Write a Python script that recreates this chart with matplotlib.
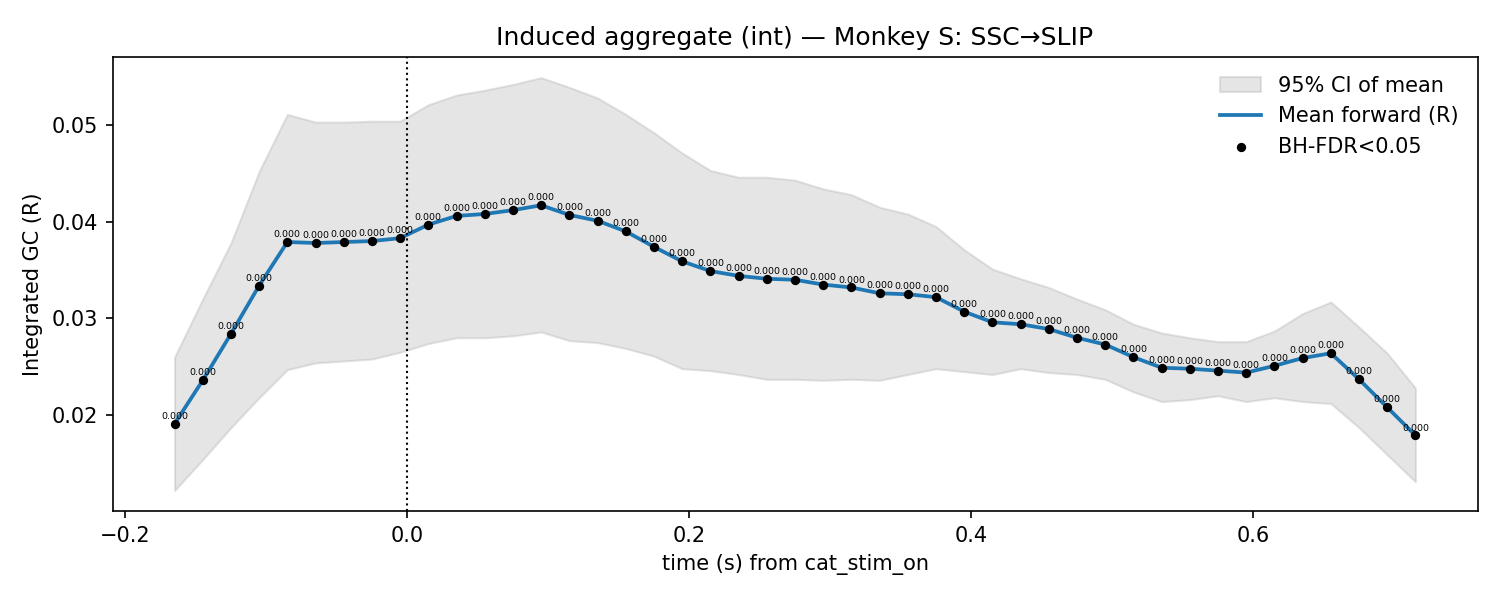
import numpy as np
import matplotlib.pyplot as plt

t = np.round(np.arange(45) * 0.02 - 0.165, 3)
mean_r = [0.0191, 0.0236, 0.0284, 0.0334, 0.0379, 0.0378, 0.0379, 0.0380, 0.0383,
          0.0397, 0.0406, 0.0408, 0.0412, 0.0417, 0.0407, 0.0401, 0.0390, 0.0374,
          0.0359, 0.0349, 0.0344, 0.0341, 0.0340, 0.0335, 0.0332, 0.0326, 0.0325,
          0.0322, 0.0307, 0.0296, 0.0294, 0.0289, 0.0280, 0.0273, 0.0260, 0.0249,
          0.0248, 0.0246, 0.0244, 0.0251, 0.0259, 0.0264, 0.0237, 0.0208, 0.0179]
ci_hi = [0.0260, 0.0320, 0.0378, 0.0452, 0.0511, 0.0503, 0.0503, 0.0504, 0.0504,
         0.0521, 0.0531, 0.0536, 0.0542, 0.0549, 0.0539, 0.0528, 0.0511, 0.0492,
         0.0471, 0.0453, 0.0446, 0.0446, 0.0443, 0.0434, 0.0428, 0.0415, 0.0408,
         0.0395, 0.0371, 0.0351, 0.0341, 0.0332, 0.0320, 0.0309, 0.0294, 0.0285,
         0.0280, 0.0276, 0.0276, 0.0287, 0.0305, 0.0317, 0.0291, 0.0264, 0.0228]
ci_lo = [0.0122, 0.0154, 0.0187, 0.0218, 0.0247, 0.0254, 0.0256, 0.0258, 0.0265,
         0.0274, 0.0280, 0.0280, 0.0282, 0.0286, 0.0277, 0.0275, 0.0269, 0.0261,
         0.0248, 0.0246, 0.0242, 0.0237, 0.0237, 0.0236, 0.0237, 0.0236, 0.0242,
         0.0248, 0.0245, 0.0242, 0.0248, 0.0244, 0.0242, 0.0237, 0.0224, 0.0214,
         0.0216, 0.0220, 0.0214, 0.0218, 0.0214, 0.0212, 0.0187, 0.0159, 0.0131]
p_fdr = [0.0] * len(t)

fig, ax = plt.subplots(figsize=(10, 4), dpi=150)
fig.subplots_adjust(left=0.075, right=0.985, top=0.905, bottom=0.148)

ax.fill_between(t, ci_lo, ci_hi, color='0.6', alpha=0.25, label='95% CI of mean')
ax.plot(t, mean_r, color='#1f77b4', lw=1.8, label='Mean forward (R)')
ax.scatter(t, mean_r, s=12, color='black', zorder=3, label='BH-FDR<0.05')
for xi, yi, p in zip(t, mean_r, p_fdr):
    ax.text(xi, yi + 0.0003, f'{p:.3f}', fontsize=4.5, ha='center', va='bottom')
ax.axvline(0, color='black', ls=':', lw=1)

ax.set_title('Induced aggregate (int) — Monkey S: SSC→SLIP')
ax.set_xlabel('time (s) from cat_stim_on')
ax.set_ylabel('Integrated GC (R)')
ax.set_yticks([0.02, 0.03, 0.04, 0.05])
ax.legend(frameon=False, loc='upper right')

plt.savefig('out.png')
